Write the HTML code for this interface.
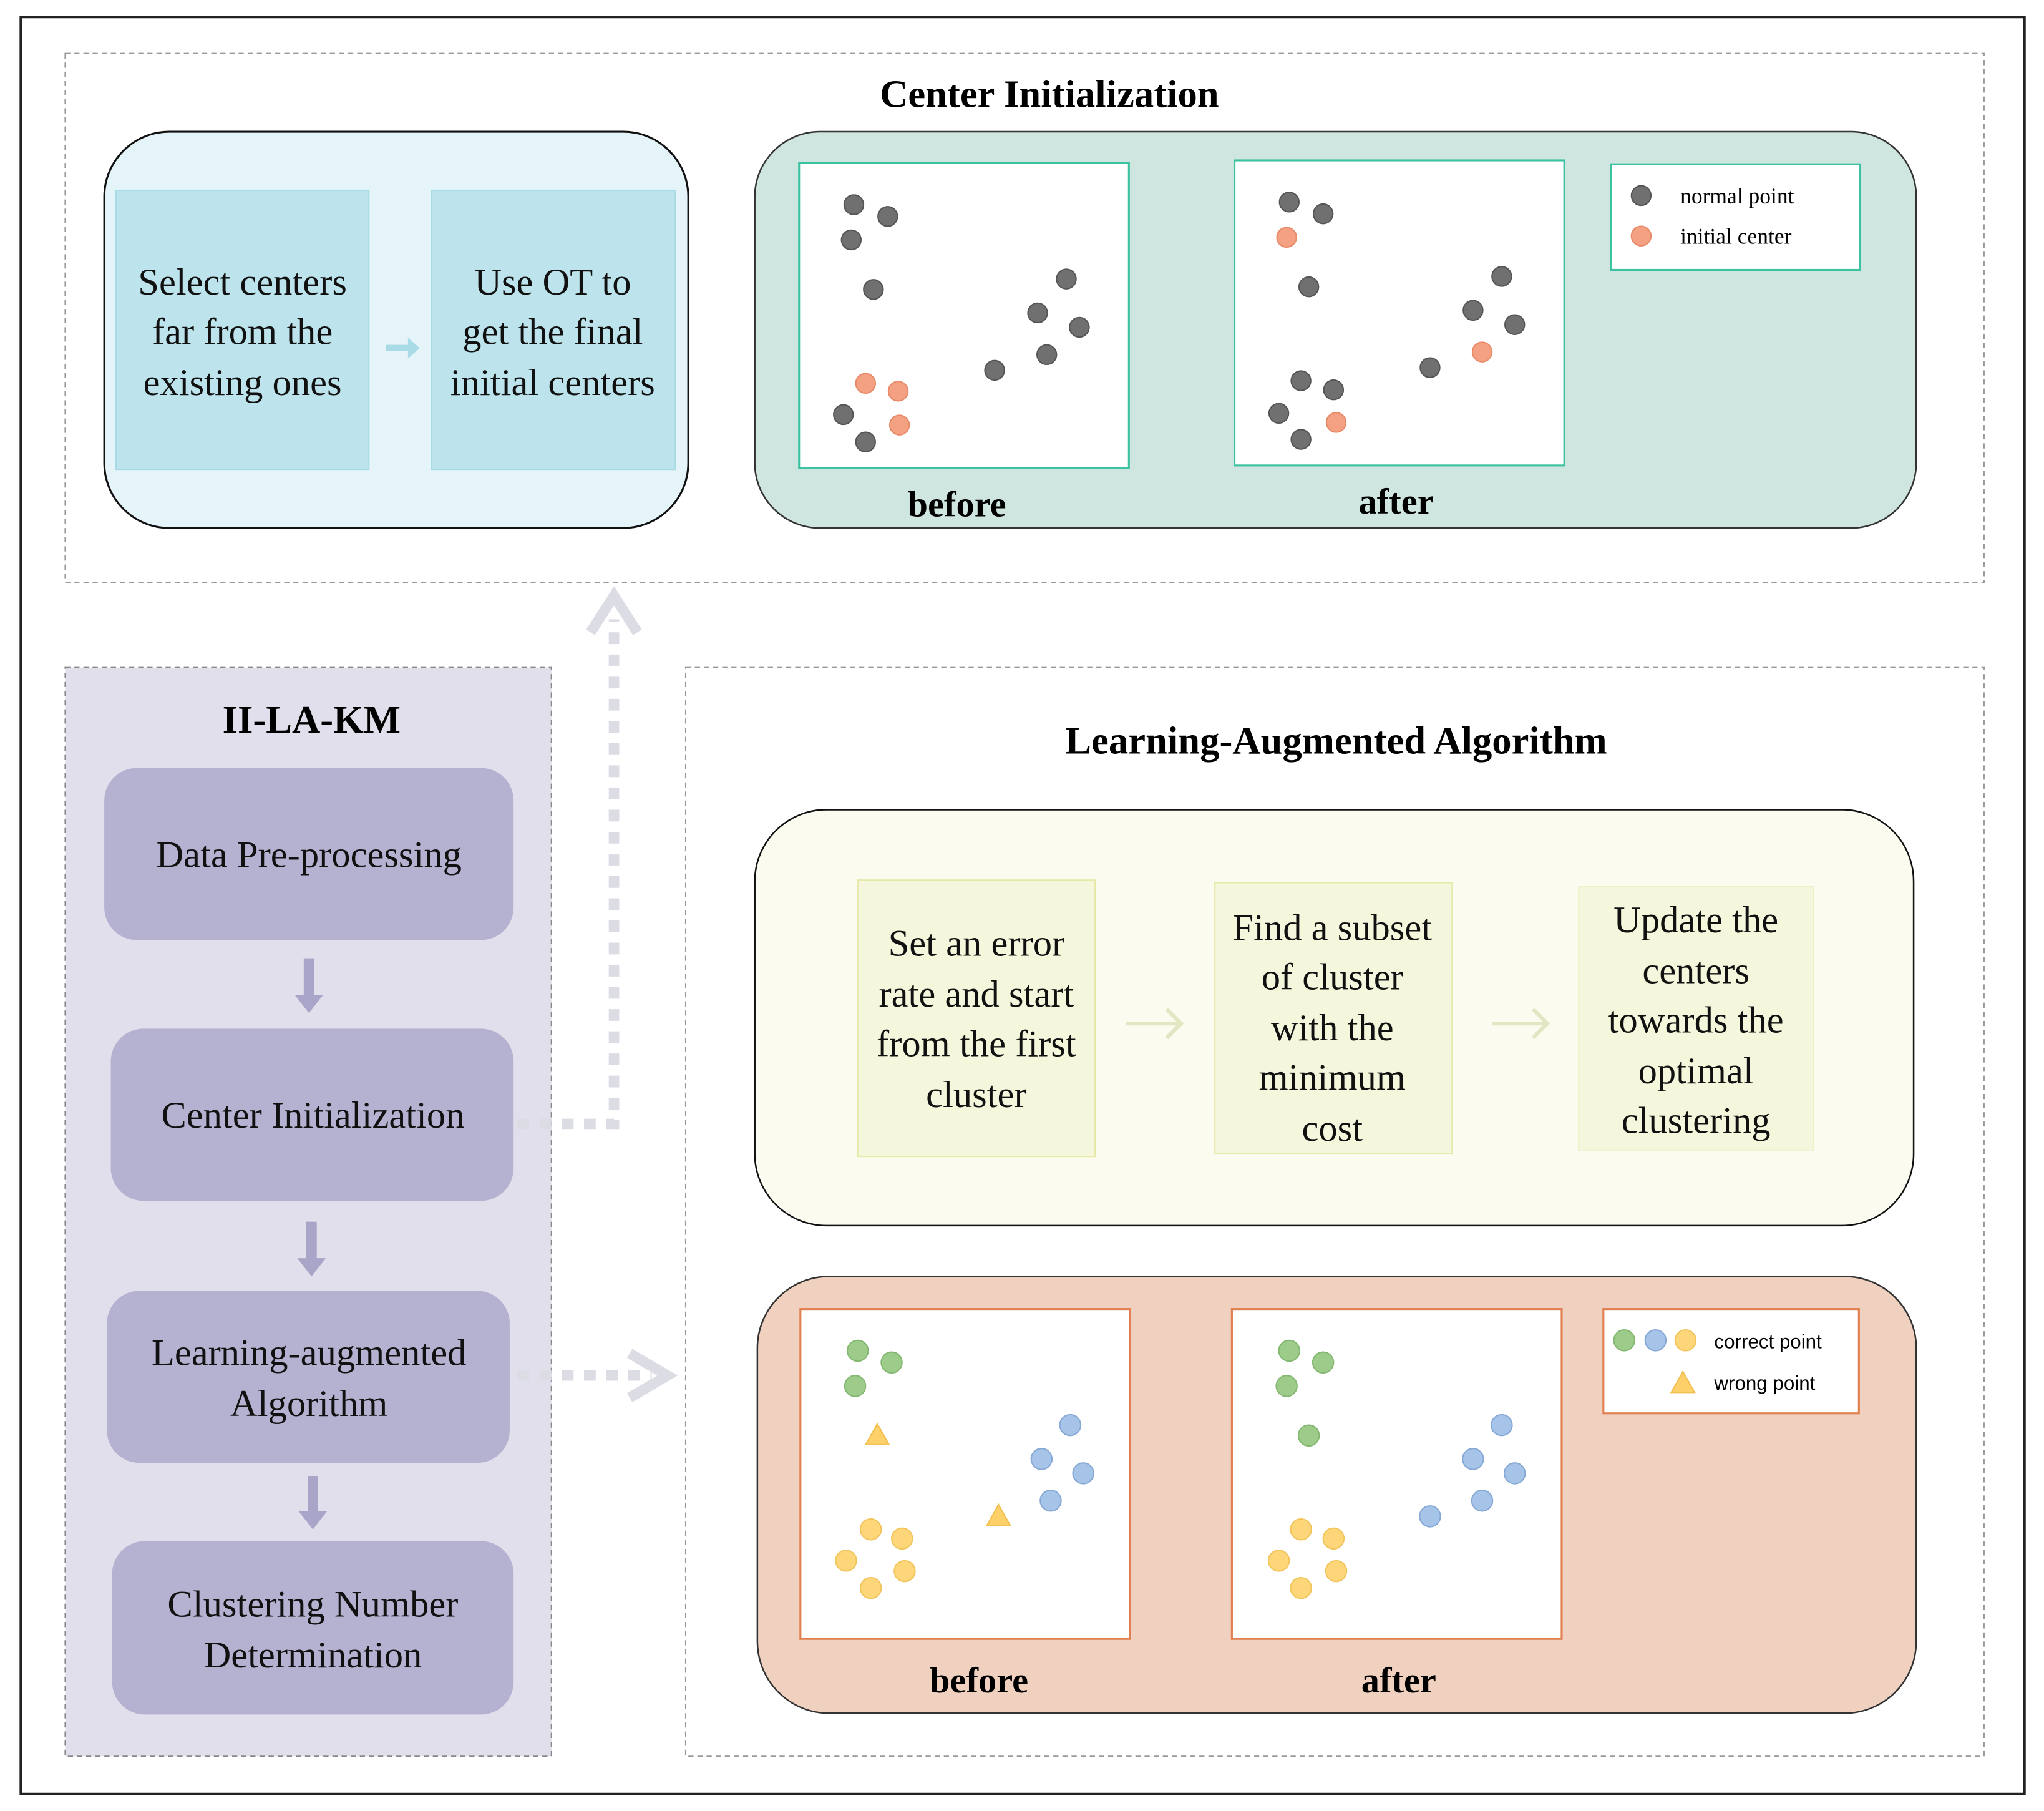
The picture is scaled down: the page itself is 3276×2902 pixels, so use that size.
<!DOCTYPE html>
<html><head><meta charset="utf-8"><style>html,body{margin:0;padding:0;background:#fff}svg{display:block}</style></head><body>
<svg width="3276" height="2902" viewBox="0 0 1568 1389" preserveAspectRatio="none" xmlns="http://www.w3.org/2000/svg" font-family="'Liberation Serif', serif">
<defs>
<g id="ga"><circle r="7.5" fill="#707070" stroke="#555" stroke-width="1"/></g>
<g id="or"><circle r="7.5" fill="#f4a183" stroke="#e88a68" stroke-width="1"/></g>
<g id="gr"><circle r="8" fill="#9dcc8a" stroke="#84b872" stroke-width="1"/></g>
<g id="bl"><circle r="8" fill="#a6c3e8" stroke="#86a8d6" stroke-width="1"/></g>
<g id="ye"><circle r="8" fill="#fdd67a" stroke="#f2c45c" stroke-width="1"/></g>
<g id="tr"><polygon points="0,-9 9,7 -9,7" fill="#fdd06a" stroke="#f2c050" stroke-width="1"/></g>
</defs>
<rect x="16" y="13" width="1537" height="1363" fill="none" stroke="#222" stroke-width="2"/>
<!-- top section -->
<rect x="50" y="41" width="1472" height="406" fill="none" stroke="#999" stroke-width="1" stroke-dasharray="4,3"/>
<text x="805" y="82" font-size="30" font-weight="bold" text-anchor="middle">Center Initialization</text>
<rect x="80" y="101" width="448" height="304" rx="50" fill="#e4f4f8" stroke="#111" stroke-width="1.5"/>
<rect x="89" y="146" width="194" height="214" fill="#bde4ec" stroke="#a8dbe6"/>
<rect x="331" y="146" width="187" height="214" fill="#bde4ec" stroke="#a8dbe6"/>
<g font-size="29" text-anchor="middle" fill="#111">
<text x="186" y="226">Select centers</text><text x="186" y="264">far from the</text><text x="186" y="303">existing ones</text>
<text x="424" y="226">Use OT to</text><text x="424" y="264">get the final</text><text x="424" y="303">initial centers</text>
</g>
<path d="M296 267 H314" stroke="#a8dbe6" stroke-width="5"/><polygon points="313,259 322,267 313,275" fill="#a8dbe6"/>
<rect x="579" y="101" width="891" height="304" rx="50" fill="#cfe6e0" stroke="#333" stroke-width="1.2"/>
<rect x="613" y="125" width="253" height="234" fill="#fff" stroke="#3cc2a0" stroke-width="1.5"/>
<rect x="947" y="123" width="253" height="234" fill="#fff" stroke="#3cc2a0" stroke-width="1.5"/>
<rect x="1236" y="126" width="191" height="81" fill="#fff" stroke="#3cc2a0" stroke-width="1.5"/>
<g>
<use href="#ga" x="655" y="157"/><use href="#ga" x="681" y="166"/><use href="#ga" x="653" y="184"/><use href="#ga" x="670" y="222"/><use href="#ga" x="818" y="214"/><use href="#ga" x="796" y="240"/><use href="#ga" x="828" y="251"/><use href="#ga" x="803" y="272"/><use href="#ga" x="763" y="284"/><use href="#ga" x="647" y="318"/><use href="#ga" x="664" y="339"/>
<use href="#or" x="664" y="294"/><use href="#or" x="689" y="300"/><use href="#or" x="690" y="326"/>
<use href="#ga" x="989" y="155"/><use href="#ga" x="1015" y="164"/><use href="#ga" x="1004" y="220"/><use href="#ga" x="1152" y="212"/><use href="#ga" x="1130" y="238"/><use href="#ga" x="1162" y="249"/><use href="#ga" x="1097" y="282"/><use href="#ga" x="998" y="292"/><use href="#ga" x="1023" y="299"/><use href="#ga" x="981" y="317"/><use href="#ga" x="998" y="337"/>
<use href="#or" x="987" y="182"/><use href="#or" x="1137" y="270"/><use href="#or" x="1025" y="324"/>
<use href="#ga" x="1259" y="150"/><use href="#or" x="1259" y="181"/>
</g>
<text x="1289" y="156" font-size="17">normal point</text>
<text x="1289" y="187" font-size="17">initial center</text>
<text x="734" y="396" font-size="28" font-weight="bold" text-anchor="middle">before</text>
<text x="1071" y="394" font-size="28" font-weight="bold" text-anchor="middle">after</text>
<!-- left panel -->
<rect x="50" y="512" width="373" height="835" fill="#e1dfeb" stroke="#888" stroke-width="1" stroke-dasharray="4,3"/>
<text x="239" y="562" font-size="30" font-weight="bold" text-anchor="middle">II-LA-KM</text>
<g fill="#b5b1d0">
<rect x="80" y="589" width="314" height="132" rx="25"/>
<rect x="85" y="789" width="309" height="132" rx="25"/>
<rect x="82" y="990" width="309" height="132" rx="25"/>
<rect x="86" y="1182" width="308" height="133" rx="25"/>
</g>
<g font-size="29" text-anchor="middle" fill="#111">
<text x="237" y="665">Data Pre-processing</text>
<text x="240" y="865">Center Initialization</text>
<text x="237" y="1047">Learning-augmented</text><text x="237" y="1086">Algorithm</text>
<text x="240" y="1240">Clustering Number</text><text x="240" y="1279">Determination</text>
</g>
<g fill="#a9a5c8">
<rect x="233" y="735" width="8" height="30"/><polygon points="226,763 248,763 237,777"/>
<rect x="235" y="937" width="8" height="30"/><polygon points="228,965 250,965 239,979"/>
<rect x="236" y="1132" width="8" height="29"/><polygon points="229,1159 251,1159 240,1173"/>
</g>
<!-- dotted connectors -->
<path d="M397 862 H471 V475" fill="none" stroke="#dcdce4" stroke-width="8" stroke-dasharray="9,8"/>
<path d="M453 485 L471 457 L489 485" fill="none" stroke="#dcdce4" stroke-width="8"/>
<path d="M397 1055 H500" fill="none" stroke="#dcdce4" stroke-width="8" stroke-dasharray="9,8"/>
<path d="M483 1038 L512 1055 L483 1072" fill="none" stroke="#dcdce4" stroke-width="8"/>
<!-- right section -->
<rect x="526" y="512" width="996" height="835" fill="none" stroke="#999" stroke-width="1" stroke-dasharray="4,3"/>
<text x="1025" y="578" font-size="30" font-weight="bold" text-anchor="middle">Learning-Augmented Algorithm</text>
<rect x="579" y="621" width="889" height="319" rx="55" fill="#fbfbef" stroke="#111" stroke-width="1.2"/>
<rect x="658" y="675" width="182" height="212" fill="#f5f7dc" stroke="#e6e9a8"/>
<rect x="932" y="677" width="182" height="208" fill="#f5f7dc" stroke="#e6e9a8"/>
<rect x="1211" y="680" width="180" height="202" fill="#f5f7dc" stroke="#eef0c8"/>
<g font-size="29" text-anchor="middle" fill="#111">
<text x="749" y="733">Set an error</text><text x="749" y="772">rate and start</text><text x="749" y="810">from the first</text><text x="749" y="849">cluster</text>
<text x="1022" y="721">Find a subset</text><text x="1022" y="759">of cluster</text><text x="1022" y="798">with the</text><text x="1022" y="836">minimum</text><text x="1022" y="875">cost</text>
<text x="1301" y="715">Update the</text><text x="1301" y="754">centers</text><text x="1301" y="792">towards the</text><text x="1301" y="831">optimal</text><text x="1301" y="869">clustering</text>
</g>
<g stroke="#e3e6c2" stroke-width="3" fill="none">
<path d="M864 785 H905 M895 774 L906 785 L895 796"/>
<path d="M1145 785 H1186 M1176 774 L1187 785 L1176 796"/>
</g>
<rect x="581" y="979" width="889" height="335" rx="55" fill="#f0d0bf" stroke="#333" stroke-width="1.2"/>
<rect x="614" y="1004" width="253" height="253" fill="#fff" stroke="#e08050" stroke-width="1.5"/>
<rect x="945" y="1004" width="253" height="253" fill="#fff" stroke="#e08050" stroke-width="1.5"/>
<rect x="1230" y="1004" width="196" height="80" fill="#fff" stroke="#e08050" stroke-width="1.5"/>
<g>
<use href="#gr" x="658" y="1036"/><use href="#gr" x="684" y="1045"/><use href="#gr" x="656" y="1063"/><use href="#tr" x="673" y="1101"/>
<use href="#bl" x="821" y="1093"/><use href="#bl" x="799" y="1119"/><use href="#bl" x="831" y="1130"/><use href="#bl" x="806" y="1151"/><use href="#tr" x="766" y="1163"/>
<use href="#ye" x="668" y="1173"/><use href="#ye" x="692" y="1180"/><use href="#ye" x="649" y="1197"/><use href="#ye" x="694" y="1205"/><use href="#ye" x="668" y="1218"/>
<use href="#gr" x="989" y="1036"/><use href="#gr" x="1015" y="1045"/><use href="#gr" x="987" y="1063"/><use href="#gr" x="1004" y="1101"/>
<use href="#bl" x="1152" y="1093"/><use href="#bl" x="1130" y="1119"/><use href="#bl" x="1162" y="1130"/><use href="#bl" x="1137" y="1151"/><use href="#bl" x="1097" y="1163"/>
<use href="#ye" x="998" y="1173"/><use href="#ye" x="1023" y="1180"/><use href="#ye" x="981" y="1197"/><use href="#ye" x="1025" y="1205"/><use href="#ye" x="998" y="1218"/>
<use href="#gr" x="1246" y="1028"/><use href="#bl" x="1270" y="1028"/><use href="#ye" x="1293" y="1028"/><use href="#tr" x="1291" y="1061"/>
</g>
<text x="1315" y="1034" font-size="15" font-family="'Liberation Sans', sans-serif">correct point</text>
<text x="1315" y="1066" font-size="15" font-family="'Liberation Sans', sans-serif">wrong point</text>
<text x="751" y="1298" font-size="28" font-weight="bold" text-anchor="middle">before</text>
<text x="1073" y="1298" font-size="28" font-weight="bold" text-anchor="middle">after</text>
</svg>
</body></html>
